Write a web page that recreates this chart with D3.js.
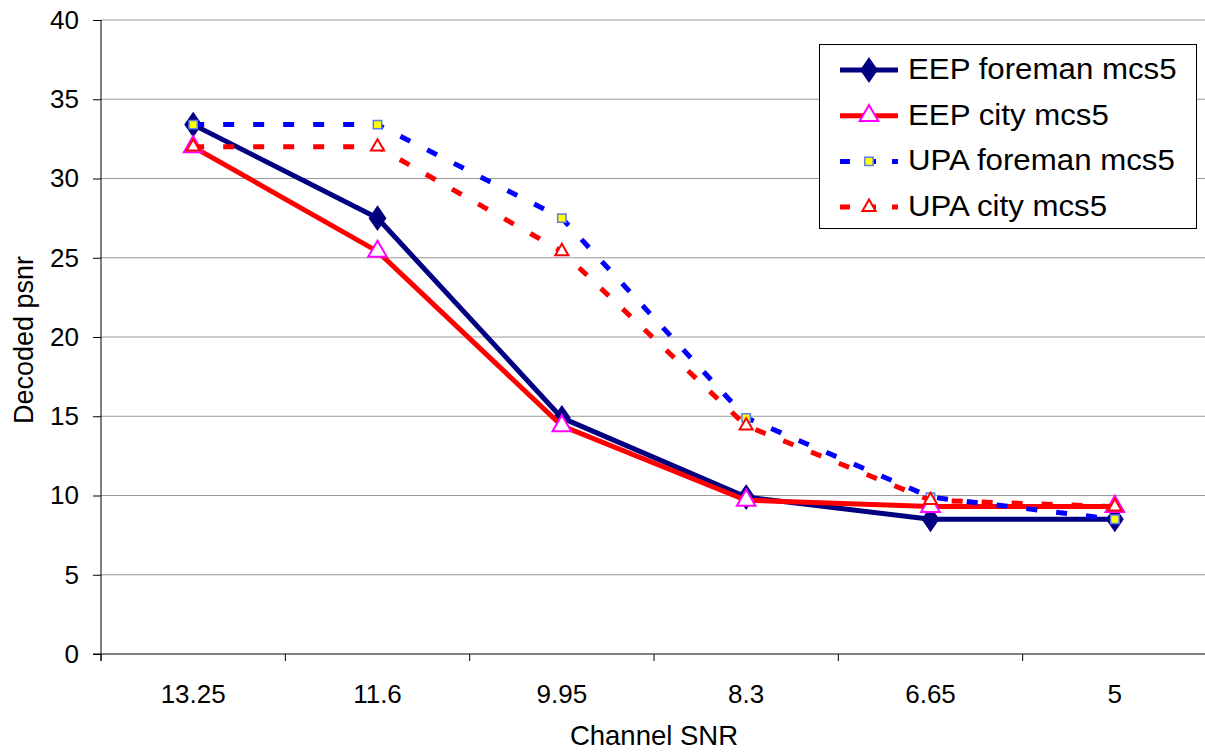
<!DOCTYPE html>
<html><head><meta charset="utf-8">
<script src="https://cdn.jsdelivr.net/npm/d3@7"></script>
<style>body{margin:0;background:#fff}svg{font-family:"Liberation Sans",Arial,sans-serif}</style>
</head><body><svg id="c" width="1205" height="756"></svg>
<script>
const categories = ["13.25","11.6","9.95","8.3","6.65","5"];
const yTicks = [0,5,10,15,20,25,30,35,40];
const seriesNames = ["EEP foreman mcs5","EEP city mcs5","UPA foreman mcs5","UPA city mcs5"];
const eepForeman = [33.4,27.5,14.9,9.9,8.5,8.5];
const eepCity    = [32.0,25.4,14.4,9.7,9.3,9.3];
const upaForeman = [33.4,33.4,27.5,14.9,9.9,8.5];
const upaCity    = [32.0,32.0,25.4,14.4,9.7,9.3];

const styles = [
  {color:"#000080", width:5, dash:null, marker:"diamond", mfill:"#000080", mstroke:"#000080", msize:150},
  {color:"#FF0000", width:5, dash:null, marker:"triangle", mfill:"#fff", mstroke:"#FF00FF", msize:150},
  {color:"#0000FF", width:5, dash:"11,19", marker:"square", mfill:"#FFFF00", mstroke:"#5A7CF0", msize:70},
  {color:"#FF0000", width:5, dash:"11,19", marker:"triangle", mfill:"#fff", mstroke:"#FF0000", msize:75}
];
const data = [eepForeman, eepCity, upaForeman, upaCity];

const svg = d3.select("#c");
const L=101, R=1207, T=20, B=654;
const x = d3.scaleBand().domain(categories).range([L,R]);
const y = d3.scaleLinear().domain([0,40]).range([B,T]);
const FF = "Liberation Sans, Arial, sans-serif";

// gridlines
svg.append("g").selectAll("line").data(yTicks.filter(d=>d>0)).join("line")
  .attr("x1",L).attr("x2",R).attr("y1",d=>y(d)).attr("y2",d=>y(d))
  .attr("stroke","#999").attr("stroke-width",1);

// y axis
const ya = svg.append("g").attr("transform",`translate(${L},0)`)
  .call(d3.axisLeft(y).tickValues(yTicks).tickSize(8).tickPadding(14));
ya.select(".domain").remove();
ya.selectAll(".tick line").attr("stroke","#000");
ya.selectAll("text").attr("font-size",26).attr("fill","#000").attr("font-family",FF);
svg.append("line").attr("x1",L).attr("x2",L).attr("y1",T).attr("y2",B+7).attr("stroke","#000");

// x axis
const xa = svg.append("g").attr("transform",`translate(0,${B})`)
  .call(d3.axisBottom(x).tickSize(0).tickPadding(31));
xa.select(".domain").remove();
xa.selectAll("text").attr("font-size",26).attr("fill","#000").attr("font-family",FF);
svg.append("line").attr("x1",L-8).attr("x2",R).attr("y1",B).attr("y2",B).attr("stroke","#000");
const bounds = categories.map((c)=>x(c)).concat([R]);
svg.append("g").selectAll("line").data(bounds).join("line")
  .attr("x1",d=>d).attr("x2",d=>d).attr("y1",B).attr("y2",B+7).attr("stroke","#000");

// axis titles
svg.append("text").attr("x",654).attr("y",745).attr("text-anchor","middle").attr("font-size",27.5).text("Channel SNR");
svg.append("text").attr("transform","translate(33,340) rotate(-90)").attr("text-anchor","middle").attr("font-size",27).text("Decoded psnr");

const cx = c => x(c)+x.bandwidth()/2;
const line = d3.line().x((d,i)=>cx(categories[i])).y(d=>y(d));
const symType = {diamond:d3.symbolDiamond, triangle:d3.symbolTriangle, square:d3.symbolSquare};

function drawMarker(g, s, px, py){
  g.append("path").attr("d", d3.symbol().type(symType[s.marker]).size(s.msize)())
    .attr("transform",`translate(${px},${py})`+(s.marker==="diamond"?" scale(1.2,1)":""))
    .attr("fill",s.mfill).attr("stroke",s.mstroke).attr("stroke-width",s.marker==="triangle"?2:1.5);
}

data.forEach((vals,k)=>{
  const s = styles[k];
  const g = svg.append("g");
  g.append("path").datum(vals).attr("d",line).attr("fill","none")
    .attr("stroke",s.color).attr("stroke-width",s.width)
    .attr("stroke-dasharray",s.dash).attr("stroke-linejoin","miter");
  vals.forEach((v,i)=>drawMarker(g,s,cx(categories[i]),y(v)));
});

// legend
const lg = svg.append("g");
lg.append("rect").attr("x",819.5).attr("y",44.5).attr("width",377).attr("height",184)
  .attr("fill","#fff").attr("stroke","#000").attr("stroke-width",1);
seriesNames.forEach((n,k)=>{
  const s = styles[k];
  const yy = 70 + k*45.7;
  lg.append("line").attr("x1",840).attr("x2",898).attr("y1",yy).attr("y2",yy)
    .attr("stroke",s.color).attr("stroke-width",s.width).attr("stroke-dasharray",s.dash?"10,16":null);
  drawMarker(lg,s,869,yy);
  lg.append("text").attr("x",0).attr("y",0).attr("font-size",29.5)
    .attr("transform",`translate(908,${yy+9}) scale(1.06,1)`).text(n);
});
</script></body></html>
